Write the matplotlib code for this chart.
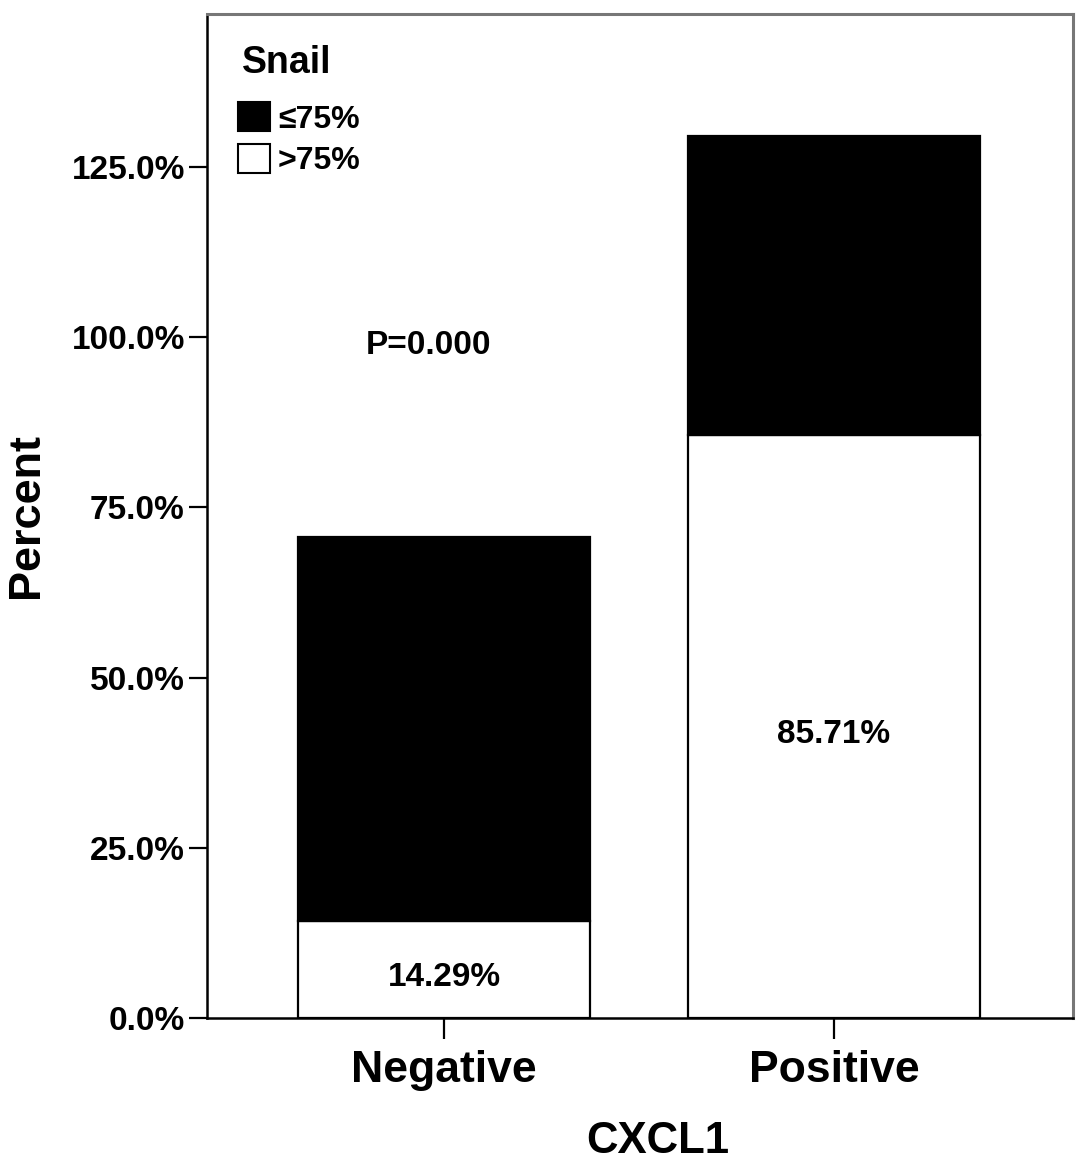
import numpy as np
import matplotlib
matplotlib.use("Agg")
import matplotlib.pyplot as plt
from matplotlib.patches import Patch

plt.rcParams['font.family'] = ['Liberation Sans', 'DejaVu Sans']
plt.rcParams['font.weight'] = 'bold'

# ===== data =====
categories = ["Negative", "Positive"]
snail_gt75 = [14.29, 85.71]      # white part (bottom)
snail_le75 = [56.4, 43.9]        # black part (stacked on top)
bar_labels = ["14.29%", "85.71%"]
p_text = "P=0.000"

fig = plt.figure(figsize=(10.87, 11.68), dpi=100)
ax = fig.add_axes([207 / 1087, 1 - 1018 / 1168,
                   (1073 - 207) / 1087, (1018 - 14) / 1168])

x = np.arange(len(categories))
width = 0.75

ax.bar(x, snail_gt75, width=width, color="white",
       edgecolor="black", linewidth=1.6, zorder=2)
ax.bar(x, snail_le75, width=width, bottom=snail_gt75, color="black",
       edgecolor="black", linewidth=1.6, zorder=2)

# labels inside white segments
for xi, v, lab in zip(x, snail_gt75, bar_labels):
    ax.annotate(lab, (xi, v / 2), xytext=(0, -6), textcoords="offset points",
                ha="center", va="center", fontsize=24, fontweight="bold")

ax.text(-0.04, 98.8, p_text, ha="center", va="center",
        fontsize=24, fontweight="bold")

ax.set_xlim(-0.608, 1.613)
ax.set_ylim(0, 147.5)

ax.set_yticks([0, 25, 50, 75, 100, 125])
ax.set_yticklabels([f"{t:.1f}%" for t in [0, 25, 50, 75, 100, 125]])
ax.set_xticks(x)
ax.set_xticklabels(categories)

ax.tick_params(axis="y", direction="out", length=13, width=1.6,
               labelsize=24, pad=3)
ax.tick_params(axis="x", direction="out", length=15, width=1.6,
               labelsize=32, pad=8)

ax.set_xlabel("CXCL1", fontsize=31.5, fontweight="bold")
ax.xaxis.set_label_coords(0.52, -0.103)
ax.set_ylabel("Percent", fontsize=32.5, fontweight="bold")
ax.yaxis.set_label_coords(-0.185, 0.5)

for side in ["left", "bottom"]:
    ax.spines[side].set_color("black")
    ax.spines[side].set_linewidth(1.8)
for side in ["top", "right"]:
    ax.spines[side].set_color("#777777")
    ax.spines[side].set_linewidth(2.2)

# ===== legend =====
ax.text(0.0404, 0.951, "Snail", transform=ax.transAxes, ha="left",
        va="center", fontsize=27, fontweight="bold")
handles = [Patch(facecolor="black", edgecolor="black", linewidth=1.5),
           Patch(facecolor="white", edgecolor="black", linewidth=1.5)]
leg = ax.legend(handles, ["\u226475%", ">75%"],
                loc="upper left", bbox_to_anchor=(0.0358, 0.912),
                frameon=False, fontsize=23,
                handlelength=1.0, handleheight=1.0, handletextpad=0.25,
                labelspacing=0.3, borderpad=0, borderaxespad=0)

fig.savefig("out.png", dpi=100)
